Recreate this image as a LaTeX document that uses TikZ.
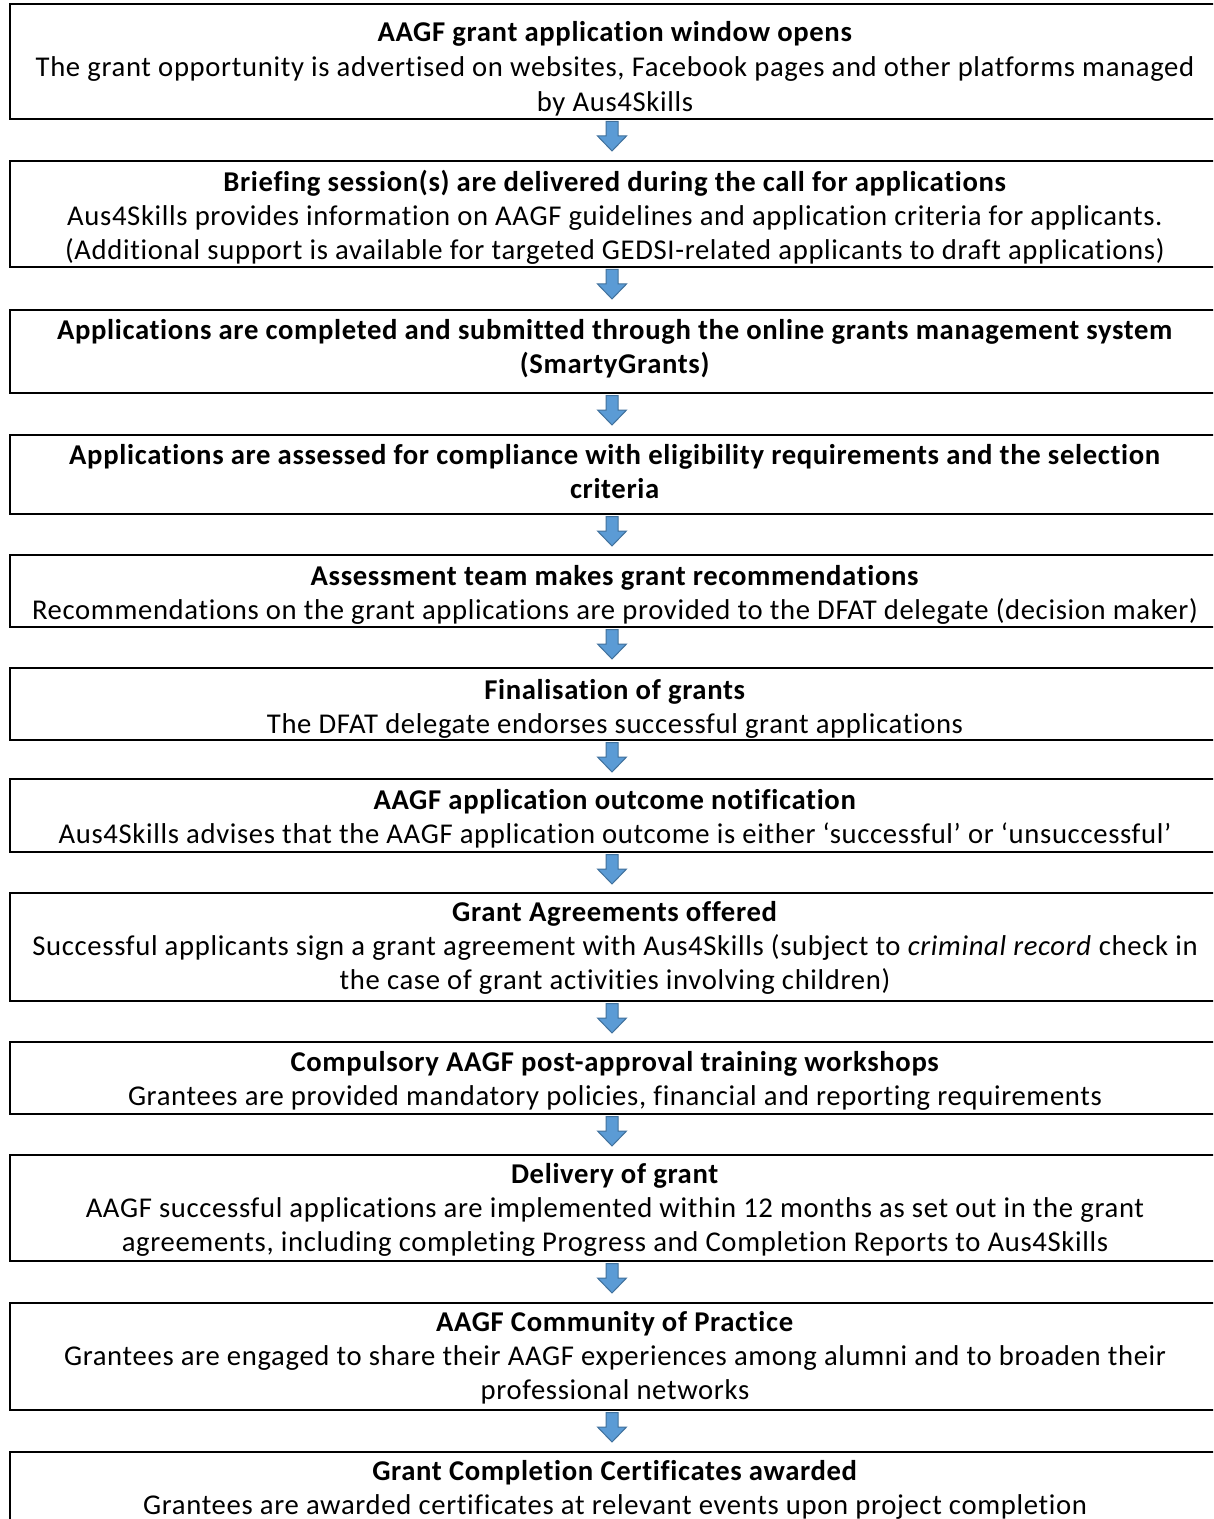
\documentclass[tikz,border=0pt]{standalone}
\usepackage{fontspec}
\setmainfont{Carlito}[Ligatures=CommonOff, LetterSpace=2.3]
\usetikzlibrary{fit,calc}
\definecolor{arrfill}{HTML}{5B9BD5}
\definecolor{arrline}{HTML}{41719C}
\newcommand\topstrut{\rule{0pt}{15pt}}
\begin{document}
\begin{tikzpicture}[x=0.75pt,y=-0.75pt,
  box/.style={draw=black, line width=1.5pt, inner sep=0pt},
  txt/.style={inner sep=0pt, align=center, anchor=north, font=\fontsize{21.5}{25.5}\selectfont},
  txtwide/.style={txt, font=\fontsize{21.5}{26.3}\selectfont},
  blockarrow/.style={fill=arrfill, draw=arrline, line width=0.75pt, line join=miter}]
\useasboundingbox (0,0) rectangle (1213,1519);
\clip (0,0) rectangle (1213,1519);
\fill[white] (0,0) rectangle (1213,1519);

\node[box, fit={(10,4) (1220,119)}] (b1) {};
\node[box, fit={(10,161) (1220,267)}] (b2) {};
\node[box, fit={(10,310) (1220,393)}] (b3) {};
\node[box, fit={(10,435) (1220,514)}] (b4) {};
\node[box, fit={(10,555) (1220,627)}] (b5) {};
\node[box, fit={(10,668) (1220,740)}] (b6) {};
\node[box, fit={(10,779) (1220,852)}] (b7) {};
\node[box, fit={(10,893) (1220,1001)}] (b8) {};
\node[box, fit={(10,1042) (1220,1114)}] (b9) {};
\node[box, fit={(10,1155) (1220,1261)}] (b10) {};
\node[box, fit={(10,1303) (1220,1410)}] (b11) {};
\node[box, fit={(10,1452) (1220,1600)}] (b12) {};

\node[txtwide] (t1) at ($(b1.north)+(0,18)$) {\topstrut\textbf{AAGF grant application window opens}\\
The grant opportunity is advertised on websites, Facebook pages and other platforms managed\\
by Aus4Skills};
\node[txt] (t2) at ($(b2.north)+(0,10)$) {\topstrut\textbf{Briefing session(s) are delivered during the call for applications}\\
Aus4Skills provides information on AAGF guidelines and application criteria for applicants.\\
(Additional support is available for targeted GEDSI-related applicants to draft applications)};
\node[txt] (t3) at ($(b3.north)+(0,10)$) {\topstrut\textbf{Applications are completed and submitted through the online grants management system}\\
\textbf{(SmartyGrants)}};
\node[txt] (t4) at ($(b4.north)+(0,10)$) {\topstrut\textbf{Applications are assessed for compliance with eligibility requirements and the selection}\\
\textbf{criteria}};
\node[txt] (t5) at ($(b5.north)+(0,11)$) {\topstrut\textbf{Assessment team makes grant recommendations}\\
Recommendations on the grant applications are provided to the DFAT delegate (decision maker)};
\node[txt] (t6) at ($(b6.north)+(0,12)$) {\topstrut\textbf{Finalisation of grants}\\
The DFAT delegate endorses successful grant applications};
\node[txt] (t7) at ($(b7.north)+(0,11)$) {\topstrut\textbf{AAGF application outcome notification}\\
Aus4Skills advises that the AAGF application outcome is either ‘successful’ or ‘unsuccessful’};
\node[txt] (t8) at ($(b8.north)+(0,9)$) {\topstrut\textbf{Grant Agreements offered}\\
Successful applicants sign a grant agreement with Aus4Skills (subject to \textit{criminal record} check in\\
the case of grant activities involving children)};
\node[txt] (t9) at ($(b9.north)+(0,10)$) {\topstrut\textbf{Compulsory AAGF post-approval training workshops}\\
Grantees are provided mandatory policies, financial and reporting requirements};
\node[txt] (t10) at ($(b10.north)+(0,9)$) {\topstrut\textbf{Delivery of grant}\\
AAGF successful applications are implemented within 12 months as set out in the grant\\
agreements, including completing Progress and Completion Reports to Aus4Skills};
\node[txt] (t11) at ($(b11.north)+(0,9)$) {\topstrut\textbf{AAGF Community of Practice}\\
Grantees are engaged to share their AAGF experiences among alumni and to broaden their\\
professional networks};
\node[txt] (t12) at ($(b12.north)+(0,9)$) {\topstrut\textbf{Grant Completion Certificates awarded}\\
Grantees are awarded certificates at relevant events upon project completion};

\foreach \a/\b in {b1/b2,b2/b3,b3/b4,b4/b5,b5/b6,b6/b7,b7/b8,b8/b9,b9/b10,b10/b11,b11/b12}{
  \draw[blockarrow] ($(\a.south)+(-9,1.5)$) -- ++(12,0) -- ++(0,14.5) -- ++(8.5,0)
    -- ++(-14.5,15) -- ++(-14.5,-15) -- ++(8.5,0) -- cycle;
}
\end{tikzpicture}
\end{document}
